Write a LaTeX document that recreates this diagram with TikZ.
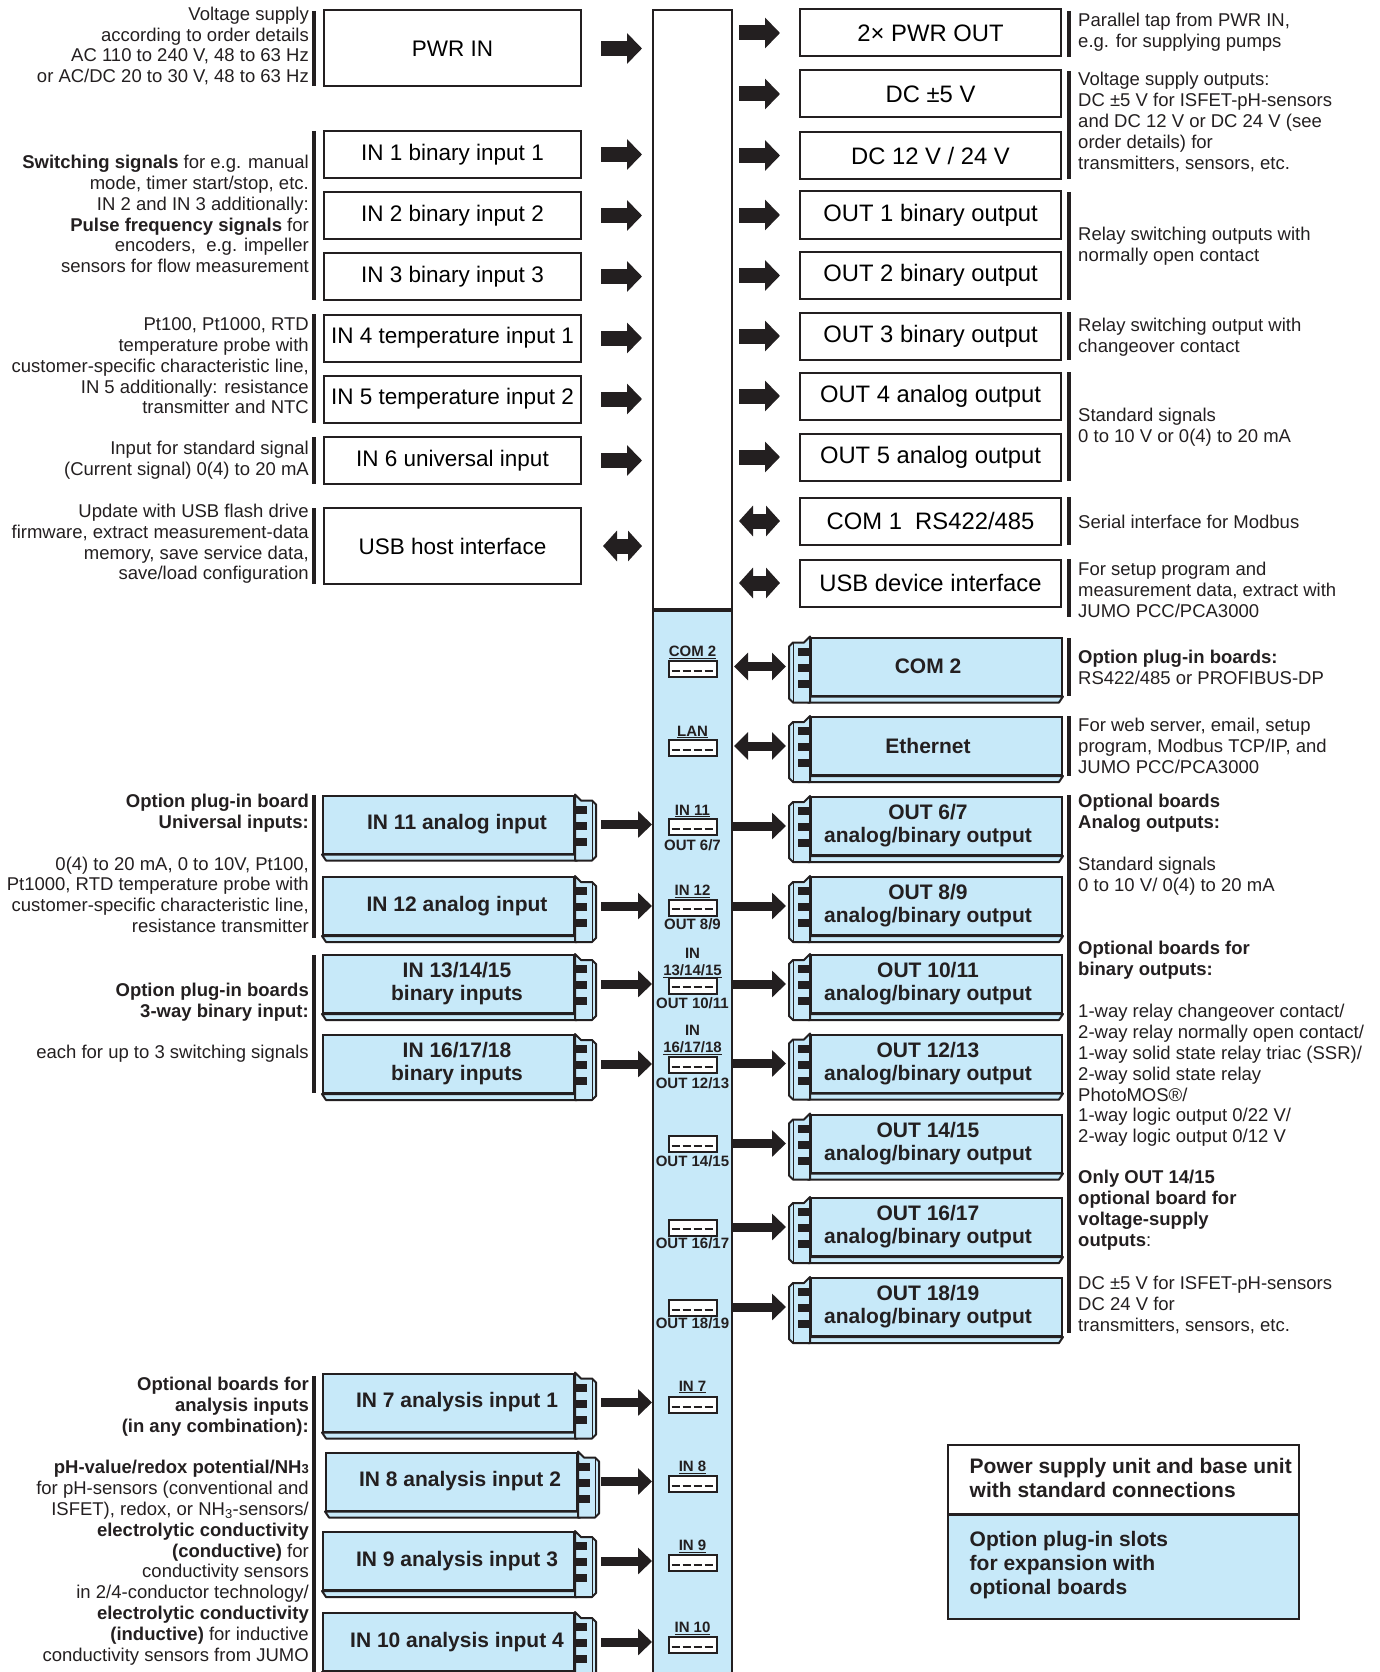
\documentclass[tikz,border=0pt]{standalone}
\usepackage{fontspec}
\setmainfont{Liberation Sans}
\usetikzlibrary{calc,arrows.meta}
\definecolor{slot}{RGB}{199,233,249}
\definecolor{ink}{RGB}{35,31,32}
\tikzset{
  lbox/.style={draw=ink,line width=2pt,fill=white,minimum width=257pt,minimum height=47pt,inner sep=0pt,font=\fontsize{22.5}{26}\selectfont},
  rbox/.style={draw=ink,line width=2pt,fill=white,minimum width=261pt,minimum height=47pt,inner sep=0pt,font=\fontsize{23.8}{26}\selectfont},
  basebar/.style={draw=ink,line width=2pt,fill=white,minimum width=79pt,minimum height=601.4pt,inner sep=0pt},
  slotbar/.style={draw=ink,line width=2pt,fill=slot,minimum width=79pt,minimum height=1079pt,inner sep=0pt},
  brd/.style={draw=ink,line width=2pt,fill=slot,minimum width=251pt,minimum height=58pt,inner sep=0pt},
  brdtxt/.style={inner sep=0pt,align=center,text=ink,font=\fontsize{21}{23}\selectfont\bfseries},
  bline/.style={draw=ink,line width=2pt,fill=slot,line join=round},
  bigarr/.style={draw=ink,line width=15pt,-{Triangle[width=30pt,length=15pt]}},
  bigdbl/.style={draw=ink,line width=15pt,{Triangle[width=30pt,length=14pt]}-{Triangle[width=30pt,length=14pt]}},
  thinarr/.style={draw=ink,line width=9pt,-{Triangle[width=26pt,length=14pt]}},
  thindbl/.style={draw=ink,line width=9pt,{Triangle[width=27pt,length=14pt]}-{Triangle[width=27pt,length=14pt]}},
  ldesc/.style={anchor=east,align=right,inner sep=0pt,text=ink,font=\fontsize{18.5}{20.8}\selectfont},
  rdesc/.style={anchor=west,align=left,inner sep=0pt,text=ink,font=\fontsize{18.5}{20.9}\selectfont},
  descbar/.style={draw=ink,line width=4pt},
  sloticon/.style={draw=ink,line width=2pt,fill=white,minimum width=48pt,minimum height=16pt,inner sep=0pt},
  barlbl/.style={inner sep=0pt,text=ink,font=\fontsize{15}{16}\selectfont\bfseries},
  legtxt/.style={anchor=west,align=left,inner sep=0pt,text=ink,font=\fontsize{21}{24.3}\selectfont\bfseries},
}
\newcommand\outdeco[1]{%
  \draw[bline] (#1.south west) -- (#1.south east) -- ++(-4,6) -- ($(#1.south west)+(-2,6)$) -- cycle;
  \draw[bline] (#1.north west) -- ++(-6,6) -- ++(-11,0) -- ++(-4,4) -- ($(#1.south west)+(-21,2)$) -- ++(4,4) -- ($(#1.south west)+(0,6)$) -- cycle;
  \draw[ink,line width=1pt] ($(#1.north west)+(-17,6)$) -- ($(#1.south west)+(-17,6)$);
  \foreach \k in {11,27,43} \fill[ink] ($(#1.north west)+(-12,\k)$) rectangle ++(12,8);
}
\newcommand\indeco[1]{%
  \draw[bline] (#1.south east) -- (#1.south west) -- ++(4,6) -- ($(#1.south east)+(2,6)$) -- cycle;
  \draw[bline] (#1.north east) -- ++(6,6) -- ++(11,0) -- ++(4,4) -- ($(#1.south east)+(21,2)$) -- ++(-4,4) -- ($(#1.south east)+(0,6)$) -- cycle;
  \draw[ink,line width=1pt] ($(#1.north east)+(17,6)$) -- ($(#1.south east)+(17,6)$);
  \foreach \k in {11,27,43} \fill[ink] ($(#1.north east)+(0,\k)$) rectangle ++(12,8);
}
% output board: name, x, y, text
\newcommand\outbrd[4]{%
  \node[brd] (#1) at (#2,#3) {};
  \node[brdtxt] (#1t) at ($(#1.center)+(-8.5,0)$) {#4};
  \outdeco{#1}%
}
\newcommand\inbrd[4]{%
  \node[brd] (#1) at (#2,#3) {};
  \node[brdtxt] (#1t) at ($(#1.center)+(8.5,0)$) {#4};
  \indeco{#1}%
}
\newcommand\sloticn[2]{%
  \node[sloticon] (#1) at (692.5,#2) {};
  \draw[ink,line width=2pt,dash pattern=on 8pt off 3pt] ($(#1.west)+(4,1.5)$) -- ($(#1.east)+(-3,1.5)$);
}
\begin{document}
\begin{tikzpicture}[x=1pt,y=-1pt]
\useasboundingbox (0,0) rectangle (1380,1672);

% ---------- central bar ----------
\node[basebar] (base) at (692.5,310.3) {};
\node[slotbar] (slots) at (692.5,1150.5) {};
\draw[ink,line width=3.5pt] (slots.north west) -- (slots.north east);

% ---------- standard left boxes ----------
\node[lbox,minimum height=76pt] (pwrin) at (452.5,48.5) {PWR IN};
\node[lbox] (in1) at (452.5,154.5) {IN 1 binary input 1};
\node[lbox] (in2) at (452.5,215.5) {IN 2 binary input 2};
\node[lbox] (in3) at (452.5,276.5) {IN 3 binary input 3};
\node[lbox] (in4) at (452.5,338) {IN 4 temperature input 1};
\node[lbox] (in5) at (452.5,399) {IN 5 temperature input 2};
\node[lbox] (in6) at (452.5,460.5) {IN 6 universal input};
\node[lbox,minimum height=76pt] (usbh) at (452.5,546) {USB host interface};

\foreach \n in {pwrin,in1,in2,in3,in4,in5,in6}
  \draw[bigarr] ($(\n.east)+(19,0)$) -- ($(\n.east -| base.west)+(-10,0)$);
\draw[bigdbl] ($(usbh.east)+(21,0)$) -- ($(usbh.east -| base.west)+(-10,0)$);

% ---------- standard right boxes ----------
\node[rbox] (pwrout) at (930.5,33) {2× PWR OUT};
\node[rbox] (dcfive) at (930.5,94) {DC ±5 V};
\node[rbox] (dctwelve) at (930.5,155.5) {DC 12 V / 24 V};
\node[rbox] (out1) at (930.5,215) {OUT 1 binary output};
\node[rbox] (out2) at (930.5,275.5) {OUT 2 binary output};
\node[rbox] (out3) at (930.5,336) {OUT 3 binary output};
\node[rbox] (out4) at (930.5,396) {OUT 4 analog output};
\node[rbox] (out5) at (930.5,457) {OUT 5 analog output};
\node[rbox] (com1) at (930.5,521) {COM 1\ \ RS422/485};
\node[rbox] (usbd) at (930.5,583) {USB device interface};

\foreach \n in {pwrout,dcfive,dctwelve,out1,out2,out3,out4,out5}
  \draw[bigarr] ($(\n.west -| base.east)+(6,0)$) -- ($(\n.west)+(-19,0)$);
\foreach \n in {com1,usbd}
  \draw[bigdbl] ($(\n.west -| base.east)+(6,0)$) -- ($(\n.west)+(-19,0)$);

% ---------- output plug-in boards ----------
\outbrd{com2}{936.5}{666.5}{COM 2}
\outbrd{eth}{936.5}{746}{Ethernet}
\outbrd{o67}{936.5}{826}{OUT 6/7\\analog/binary output}
\outbrd{o89}{936.5}{906}{OUT 8/9\\analog/binary output}
\outbrd{o1011}{936.5}{984}{OUT 10/11\\analog/binary output}
\outbrd{o1213}{936.5}{1063.5}{OUT 12/13\\analog/binary output}
\outbrd{o1415}{936.5}{1143.5}{OUT 14/15\\analog/binary output}
\outbrd{o1617}{936.5}{1227}{OUT 16/17\\analog/binary output}
\outbrd{o1819}{936.5}{1307}{OUT 18/19\\analog/binary output}
\foreach \n in {com2,eth}
  \draw[thindbl] ($(\n.west -| slots.east)+(1,0)$) -- ($(\n.west)+(-24,0)$);
\foreach \n in {o67,o89,o1011,o1213,o1415,o1617,o1819}
  \draw[thinarr] (\n.west -| slots.east) -- ($(\n.west)+(-24,0)$);

% ---------- input plug-in boards ----------
\inbrd{i11}{448.5}{824.5}{IN 11 analog input}
\inbrd{i12}{448.5}{906}{IN 12 analog input}
\inbrd{i13}{448.5}{984}{IN 13/14/15\\binary inputs}
\inbrd{i16}{448.5}{1064}{IN 16/17/18\\binary inputs}
\inbrd{i7}{448.5}{1402.5}{IN 7 analysis input 1}
\inbrd{i8}{451.5}{1481.5}{IN 8 analysis input 2}
\inbrd{i9}{448.5}{1561}{IN 9 analysis input 3}
\inbrd{i10}{448.5}{1642}{IN 10 analysis input 4}
\foreach \n in {i11,i12,i13,i16,i7,i9,i10}
  \draw[thinarr] ($(\n.east)+(26,0)$) -- (\n.east -| slots.west);
\draw[thinarr] ($(i8.east)+(23,0)$) -- (i8.east -| slots.west);

% ---------- slot icons in the bar ----------
\node[barlbl] (lcom2) at (692.5,652) {\underline{COM 2}};
\sloticn{scom2}{669}
\node[barlbl] (llan) at (692.5,732) {\underline{LAN}};
\sloticn{slan}{748}
\node[barlbl] (lin11) at (692.5,811) {\underline{IN 11}};
\sloticn{sin11}{827}
\node[barlbl] (lo67) at (692.5,845) {OUT 6/7};
\node[barlbl] (lin12) at (692.5,891.6) {\underline{IN 12}};
\sloticn{sin12}{907.5}
\node[barlbl] (lo89) at (692.5,924.6) {OUT 8/9};
\node[barlbl] (lin13a) at (692.5,953) {IN};
\node[barlbl] (lin13b) at (692.5,971) {\underline{13/14/15}};
\sloticn{sin13}{985.5}
\node[barlbl] (lo1011) at (692.5,1003) {OUT 10/11};
\node[barlbl] (lin16a) at (692.5,1030) {IN};
\node[barlbl] (lin16b) at (692.5,1048) {\underline{16/17/18}};
\sloticn{sin16}{1065}
\node[barlbl] (lo1213) at (692.5,1083) {OUT 12/13};
\sloticn{so1415}{1144}
\node[barlbl] (lo1415) at (692.5,1161) {OUT 14/15};
\sloticn{so1617}{1227.5}
\node[barlbl] (lo1617) at (692.5,1243.5) {OUT 16/17};
\sloticn{so1819}{1308}
\node[barlbl] (lo1819) at (692.5,1323.5) {OUT 18/19};
\node[barlbl] (lin7) at (692.5,1387) {\underline{IN 7}};
\sloticn{sin7}{1405}
\node[barlbl] (lin8) at (692.5,1467) {\underline{IN 8}};
\sloticn{sin8}{1484}
\node[barlbl] (lin9) at (692.5,1546) {\underline{IN 9}};
\sloticn{sin9}{1563}
\node[barlbl] (lin10) at (692.5,1628) {\underline{IN 10}};
\sloticn{sin10}{1645}

% ---------- left descriptions ----------
\node[ldesc] (d1) at (309,46) {Voltage supply\\according to order details\\AC 110 to 240 V, 48 to 63 Hz\\or AC/DC 20 to 30 V, 48 to 63 Hz};
\node[ldesc] (d2) at (309,214) {\textbf{Switching signals} for e.g. manual\\mode, timer start/stop, etc.\\IN 2 and IN 3 additionally:\\\textbf{Pulse frequency signals} for\\encoders,\ \ e.g. impeller\\sensors for flow measurement};
\node[ldesc] (d3) at (309,366) {Pt100, Pt1000, RTD\\temperature probe with\\customer-specific characteristic line,\\IN 5 additionally: resistance\\transmitter and NTC};
\node[ldesc] (d4) at (309,460) {Input for standard signal\\(Current signal) 0(4) to 20 mA};
\node[ldesc] (d5) at (309,544) {Update with USB flash drive\\firmware, extract measurement-data\\memory, save service data,\\save/load configuration};
\node[ldesc] (d6) at (309,863.5) {\textbf{Option plug-in board}\\\textbf{Universal inputs:}\\[20.8pt]0(4) to 20 mA, 0 to 10V, Pt100,\\Pt1000, RTD temperature probe with\\customer-specific characteristic line,\\resistance transmitter};
\node[ldesc] (d7) at (309,1023) {\textbf{Option plug-in boards}\\\textbf{3-way binary input:}\\[20.8pt]each for up to 3 switching signals};
\node[ldesc] (d8) at (309,1521) {\textbf{Optional boards for}\\\textbf{analysis inputs}\\\textbf{(in any combination):}\\[20.8pt]\textbf{pH-value/redox potential/NH{\fontsize{13}{13}\selectfont 3}}\\for pH-sensors (conventional and\\ISFET), redox, or NH\textsubscript{3}-sensors/\\\textbf{electrolytic conductivity}\\\textbf{(conductive)} for\\conductivity sensors\\in 2/4-conductor technology/\\\textbf{electrolytic conductivity}\\\textbf{(inductive)} for inductive\\conductivity sensors from JUMO};

\draw[descbar] (313.5,11) -- (313.5,86);
\draw[descbar] (313.5,131) -- (313.5,300);
\draw[descbar] (313.5,314) -- (313.5,423);
\draw[descbar] (313.5,437) -- (313.5,484);
\draw[descbar] (313.5,508) -- (313.5,584);
\draw[descbar] (313.5,795) -- (313.5,938);
\draw[descbar] (313.5,955) -- (313.5,1093);
\draw[descbar] (313.5,1376) -- (313.5,1672);

% ---------- right descriptions ----------
\node[rdesc] (r1) at (1078,32) {Parallel tap from PWR IN,\\e.g. for supplying pumps};
\node[rdesc] (r2) at (1078,122) {Voltage supply outputs:\\DC ±5 V for ISFET-pH-sensors\\and DC 12 V or DC 24 V (see\\order details) for\\transmitters, sensors, etc.};
\node[rdesc] (r3) at (1078,246) {Relay switching outputs with\\normally open contact};
\node[rdesc] (r4) at (1078,337) {Relay switching output with\\changeover contact};
\node[rdesc] (r5) at (1078,427) {Standard signals\\0 to 10 V or 0(4) to 20 mA};
\node[rdesc] (r6) at (1078,521.5) {Serial interface for Modbus};
\node[rdesc] (r7) at (1078,590) {For setup program and\\measurement data, extract with\\JUMO PCC/PCA3000};
\node[rdesc] (r8) at (1078,667) {\textbf{Option plug-in boards:}\\RS422/485 or PROFIBUS-DP};
\node[rdesc] (r9) at (1078,745.5) {For web server, email, setup\\program, Modbus TCP/IP, and\\JUMO PCC/PCA3000};
\node[rdesc] (r10) at (1078,844.5) {\textbf{Optional boards}\\\textbf{Analog outputs:}\\[20.9pt]Standard signals\\0 to 10 V/ 0(4) to 20 mA};
\node[rdesc] (r11) at (1078,1044) {\textbf{Optional boards for}\\\textbf{binary outputs:}\\[20.9pt]1-way relay changeover contact/\\2-way relay normally open contact/\\1-way solid state relay triac (SSR)/\\2-way solid state relay\\PhotoMOS®/\\1-way logic output 0/22 V/\\2-way logic output 0/12 V};
\node[rdesc] (r12) at (1078,1210) {\textbf{Only OUT 14/15}\\\textbf{optional board for}\\\textbf{voltage-supply}\\\textbf{outputs}:};
\node[rdesc] (r13) at (1078,1305) {DC ±5 V for ISFET-pH-sensors\\DC 24 V for\\transmitters, sensors, etc.};

\draw[descbar] (1069,11) -- (1069,57);
\draw[descbar] (1069,71) -- (1069,179);
\draw[descbar] (1069,192) -- (1069,300);
\draw[descbar] (1069,312) -- (1069,360);
\draw[descbar] (1069,372) -- (1069,481);
\draw[descbar] (1069,497) -- (1069,545);
\draw[descbar] (1069,559) -- (1069,617);
\draw[descbar] (1069,638) -- (1069,696);
\draw[descbar] (1069,716) -- (1069,776);
\draw[descbar] (1069,795) -- (1069,1333);

% ---------- legend ----------
\node[draw=ink,line width=2.5pt,fill=white,minimum width=351pt,minimum height=69.5pt,inner sep=0pt] (legA) at (1123.5,1479.75) {};
\node[draw=ink,line width=2.5pt,fill=slot,minimum width=351pt,minimum height=104.5pt,inner sep=0pt] (legB) at (1123.5,1566.75) {};
\node[legtxt] (legAt) at (969.5,1477.75) {Power supply unit and base unit\\with standard connections};
\node[legtxt] (legBt) at (969.5,1565) {Option plug-in slots\\for expansion with\\optional boards};
\end{tikzpicture}
\end{document}
